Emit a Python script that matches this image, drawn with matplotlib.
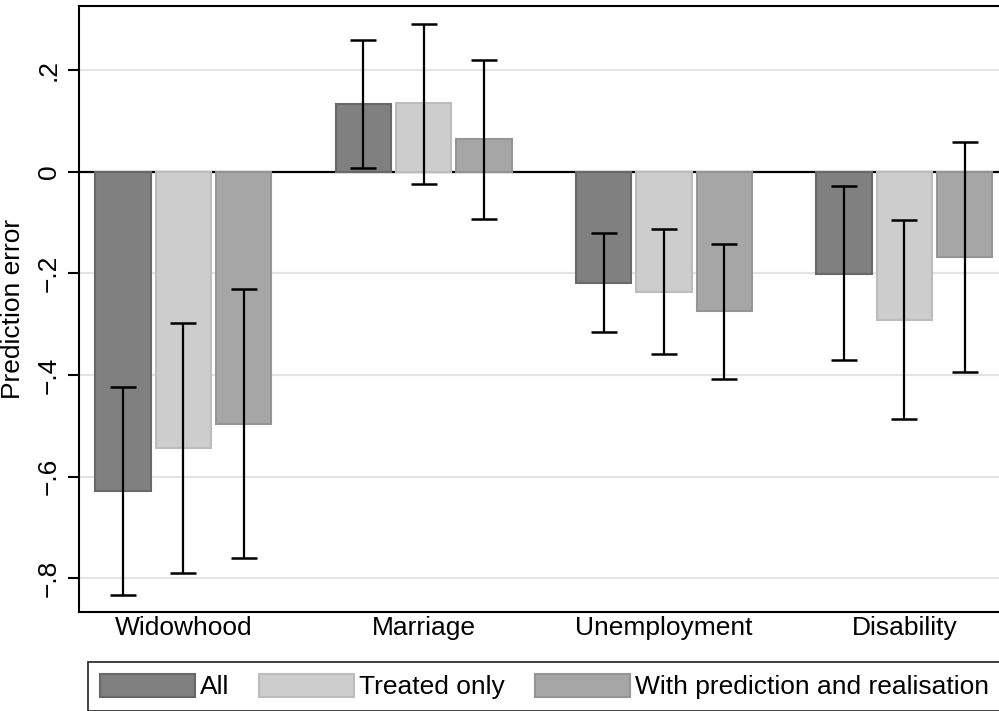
import matplotlib
matplotlib.use("Agg")
import matplotlib.pyplot as plt
import numpy as np

plt.rcParams['font.family'] = ['Liberation Sans', 'DejaVu Sans']

categories = ["Widowhood", "Marriage", "Unemployment", "Disability"]
series_names = ["All", "Treated only", "With prediction and realisation"]

all_vals = [-0.629, 0.134, -0.219, -0.201]
all_lo = [-0.833, 0.007, -0.316, -0.371]
all_hi = [-0.423, 0.260, -0.120, -0.029]

treated_vals = [-0.544, 0.135, -0.236, -0.292]
treated_lo = [-0.790, -0.024, -0.358, -0.486]
treated_hi = [-0.297, 0.291, -0.113, -0.096]

pred_vals = [-0.496, 0.064, -0.275, -0.168]
pred_lo = [-0.760, -0.094, -0.407, -0.394]
pred_hi = [-0.231, 0.219, -0.142, 0.058]

yticks = [0.2, 0.0, -0.2, -0.4, -0.6, -0.8]
yticklabels = [".2", "0", "\u2212.2", "\u2212.4", "\u2212.6", "\u2212.8"]

fills = ["#808080", "#cdcdcd", "#a6a6a6"]
edges = ["#686868", "#bcbcbc", "#959595"]

fig = plt.figure(figsize=(9.99, 7.11), dpi=100)
ax = fig.add_axes([79/999, 1 - 612.3/711, 929.5/999, (612.3 - 6)/711])

x = np.arange(len(categories))
step = 0.251
width = 0.230
series = [(all_vals, all_lo, all_hi), (treated_vals, treated_lo, treated_hi), (pred_vals, pred_lo, pred_hi)]

for g in yticks:
    if g != 0:
        ax.axhline(g, color="#e4e4e4", lw=1.5, zorder=0)
ax.axhline(0, color="black", lw=1.6, zorder=1)

for i, (vals, lo, hi) in enumerate(series):
    pos = x + (i - 1) * step
    vals = np.array(vals); lo = np.array(lo); hi = np.array(hi)
    ax.bar(pos, vals, width=width, color=fills[i], edgecolor=edges[i], linewidth=1.5,
           label=series_names[i], zorder=2)
    mid = (lo + hi) / 2
    ax.errorbar(pos, mid, yerr=[mid - lo, hi - mid], fmt="none", ecolor="black",
                elinewidth=1.6, capsize=9.5, capthick=1.8, zorder=3)

ax.set_xlim(-0.4336, 3.4336)
ax.set_ylim(-0.867, 0.326)
ax.set_xticks(x)
ax.set_xticklabels(categories, fontsize=19)
ax.tick_params(axis="x", length=0, pad=3)
ax.set_yticks(yticks)
ax.set_yticklabels(yticklabels, fontsize=19, rotation=90, va="center")
ax.tick_params(axis="y", length=8, width=1.5, pad=5, direction="out")
ax.set_ylabel("Prediction error", fontsize=19)
ax.yaxis.set_label_coords(-54/929.5, 0.5)

for s in ["left", "top", "bottom", "right"]:
    ax.spines[s].set_linewidth(1.5)
    ax.spines[s].set_color("black")

leg = fig.legend(loc="upper left", bbox_to_anchor=(88/999, 1 - 661.7/711), ncol=3,
                 fontsize=19, frameon=True, fancybox=False, edgecolor="black",
                 handlelength=3.6, handleheight=1.0, handletextpad=0.2,
                 columnspacing=1.12, borderpad=0.45, borderaxespad=0)
leg.get_frame().set_linewidth(1.3)

fig.savefig("out.png", dpi=100)
